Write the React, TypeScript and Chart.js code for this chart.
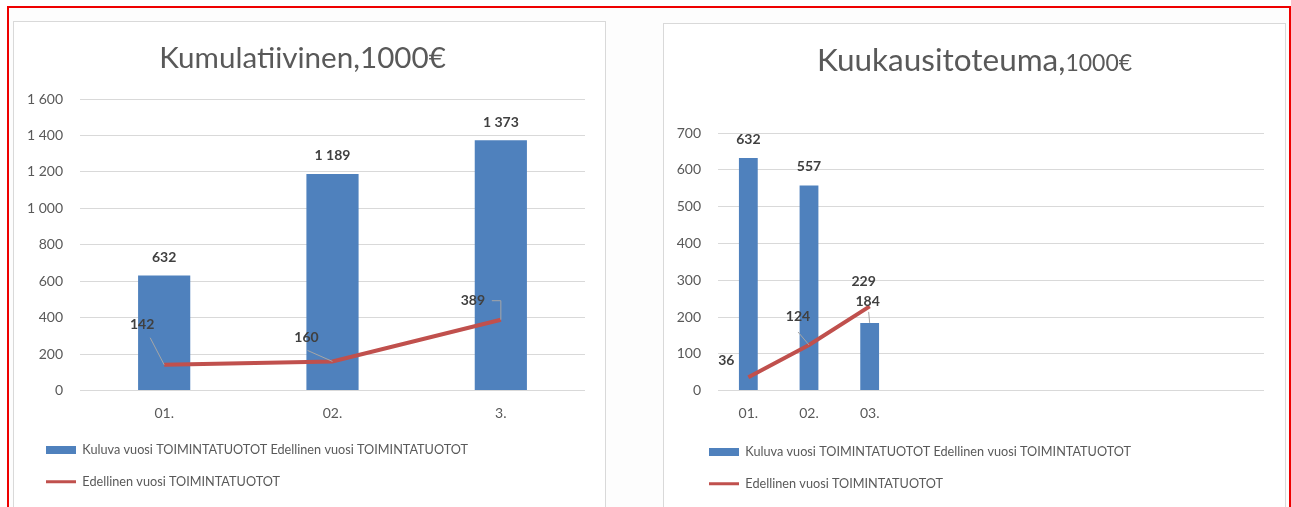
import React, { useEffect, useRef } from "react";
import { Chart, registerables } from "chart.js";

Chart.register(...registerables);

// ---------- data ----------
const cumCategories = ["01.", "02.", "3."];
const cumCurrent = [632, 1189, 1373];
const cumPrevious = [142, 160, 389];
const cumMax = 1600;
const cumStep = 200;

const monCategories = ["01.", "02.", "03.", "", "", "", "", "", ""];
const monCurrent = [632, 557, 184];
const monPrevious = [36, 124, 229];
const monMax = 700;
const monStep = 100;

const barSeriesName = "Kuluva vuosi TOIMINTATUOTOT Edellinen vuosi TOIMINTATUOTOT";
const lineSeriesName = "Edellinen vuosi TOIMINTATUOTOT";

const cumTitle = [{ text: "Kumulatiivinen,1000€", size: 29.6 }];
const monTitle = [
  { text: "Kuukausitoteuma,", size: 31.5 },
  { text: "1000€", size: 23 },
];

// ---------- styles ----------
const BLUE = "#4f81bd";
const RED = "#c0504d";
const GRID = "#d9d9d9";
const TEXT = "#595959";
const LABEL = "#404040";
const LEADER = "#a6a6a6";
const FONT = "Lato, 'Open Sans', sans-serif";

type Off = { dx: number; dy: number; leader?: number[][] };

const cumLabelOffsets: { bar: Off[]; line: Off[] } = {
  bar: [
    { dx: 0, dy: -18 },
    { dx: 0, dy: -18 },
    { dx: 0, dy: -18 },
  ],
  line: [
    { dx: -22, dy: -40, leader: [[8, 13]] },
    { dx: -26, dy: -24, leader: [[1, 13]] },
    { dx: -28, dy: -19, leader: [[19, 0], [28, 0]] },
  ],
};

const monLabelOffsets: { bar: Off[]; line: Off[] } = {
  bar: [
    { dx: 0, dy: -19 },
    { dx: 0, dy: -19 },
    { dx: -2, dy: -21, leader: [[1, 10]] },
  ],
  line: [
    { dx: -22, dy: -17 },
    { dx: -11, dy: -28, leader: [[0, 15]] },
    { dx: -6, dy: -25 },
  ],
};

const fmt = (v: number) => String(v).replace(/\B(?=(\d{3})+(?!\d))/g, " ");

function valueLabelsPlugin(offsets: { bar: Off[]; line: Off[] }) {
  return {
    id: "valueLabels",
    afterDatasetsDraw(chart: any) {
      const ctx = chart.ctx as CanvasRenderingContext2D;
      ctx.save();
      chart.data.datasets.forEach((ds: any, di: number) => {
        const meta = chart.getDatasetMeta(di);
        const offs = ds.type === "bar" ? offsets.bar : offsets.line;
        meta.data.forEach((el: any, i: number) => {
          const v = ds.data[i] as number;
          const o = offs[i] || { dx: 0, dy: -18 };
          const lx = el.x + o.dx;
          const ly = el.y + o.dy;
          if (o.leader) {
            ctx.beginPath();
            ctx.strokeStyle = LEADER;
            ctx.lineWidth = 1;
            o.leader.forEach((p, k) => {
              if (k === 0) ctx.moveTo(lx + p[0], ly + p[1]);
              else ctx.lineTo(lx + p[0], ly + p[1]);
            });
            ctx.lineTo(el.x, el.y);
            ctx.stroke();
          }
          ctx.font = `bold 14px ${FONT}`;
          ctx.fillStyle = LABEL;
          ctx.textAlign = "center";
          ctx.textBaseline = "middle";
          ctx.fillText(fmt(v), lx, ly);
        });
      });
      ctx.restore();
    },
  };
}

function titlePlugin(parts: { text: string; size: number }[], dx: number, baseline: number) {
  return {
    id: "mixedTitle",
    afterDraw(chart: any) {
      const ctx = chart.ctx as CanvasRenderingContext2D;
      ctx.save();
      ctx.fillStyle = TEXT;
      ctx.textAlign = "left";
      ctx.textBaseline = "alphabetic";
      const widths = parts.map((p) => {
        ctx.font = `${p.size}px ${FONT}`;
        return ctx.measureText(p.text).width;
      });
      const total = widths.reduce((a, b) => a + b, 0);
      let x = chart.width / 2 + dx - total / 2;
      parts.forEach((p, i) => {
        ctx.font = `${p.size}px ${FONT}`;
        ctx.fillText(p.text, x, baseline);
        x += widths[i];
      });
      ctx.restore();
    },
  };
}

function legendShiftPlugin(shift: number) {
  return {
    id: "legendShift",
    afterLayout(chart: any) {
      const lg = chart.legend;
      if (lg) {
        lg.left += shift;
        lg.right += shift;
      }
    },
  };
}

type Layout = {
  padTop: number;
  padRight: number;
  padBottom: number;
  yWidth: number;
  xHeight: number;
  legendShift: number;
  titleDx: number;
  titleBaseline: number;
};

function makeConfig(
  categories: string[],
  current: number[],
  previous: number[],
  max: number,
  step: number,
  title: { text: string; size: number }[],
  offsets: { bar: Off[]; line: Off[] },
  L: Layout
): any {
  return {
    type: "bar",
    data: {
      labels: categories,
      datasets: [
        {
          type: "line",
          label: lineSeriesName,
          data: previous,
          borderColor: RED,
          backgroundColor: RED,
          borderWidth: 4,
          pointRadius: 0,
          tension: 0,
          order: 0,
        },
        {
          type: "bar",
          label: barSeriesName,
          data: current,
          backgroundColor: BLUE,
          borderWidth: 0,
          categoryPercentage: 1,
          barPercentage: 0.31,
          order: 1,
        },
      ],
    },
    plugins: [
      legendShiftPlugin(L.legendShift),
      valueLabelsPlugin(offsets),
      titlePlugin(title, L.titleDx, L.titleBaseline),
    ],
    options: {
      animation: false,
      responsive: false,
      maintainAspectRatio: false,
      layout: {
        padding: { top: L.padTop, left: 0, right: L.padRight, bottom: L.padBottom },
      },
      plugins: {
        title: { display: false },
        tooltip: { enabled: false },
        legend: {
          position: "bottom",
          align: "start",
          labels: {
            usePointStyle: true,
            pointStyleWidth: 30,
            boxWidth: 30,
            boxHeight: 8,
            padding: 19,
            color: TEXT,
            font: { family: FONT, size: 12.7 },
            generateLabels: () => [
              {
                text: barSeriesName,
                fillStyle: BLUE,
                strokeStyle: BLUE,
                lineWidth: 0,
                pointStyle: "rect",
                hidden: false,
                datasetIndex: 1,
                fontColor: TEXT,
              },
              {
                text: lineSeriesName,
                fillStyle: RED,
                strokeStyle: RED,
                lineWidth: 3,
                pointStyle: "line",
                hidden: false,
                datasetIndex: 0,
                fontColor: TEXT,
              },
            ],
          },
        },
      },
      scales: {
        x: {
          grid: { display: false, drawTicks: false },
          border: { display: false },
          ticks: {
            color: TEXT,
            font: { family: FONT, size: 14 },
            padding: 14,
            autoSkip: false,
            maxRotation: 0,
          },
          afterFit: (s: any) => {
            s.height = L.xHeight;
          },
        },
        y: {
          min: 0,
          max,
          grid: { color: GRID, lineWidth: 1, drawTicks: false },
          border: { display: false },
          ticks: {
            stepSize: step,
            color: TEXT,
            font: { family: FONT, size: 14 },
            padding: 17,
            callback: (v: any) => fmt(Number(v)),
          },
          afterFit: (s: any) => {
            s.width = L.yWidth;
          },
        },
      },
    },
  };
}

function ChartCanvas({ config, w, h }: { config: () => any; w: number; h: number }) {
  const ref = useRef<HTMLCanvasElement>(null);
  useEffect(() => {
    const chart = new Chart(ref.current as HTMLCanvasElement, config());
    return () => chart.destroy();
  }, []);
  return <canvas ref={ref} width={w} height={h} style={{ display: "block", width: w, height: h }} />;
}

export default function App() {
  const leftW = 591;
  const rightW = 621;
  const canvasH = 490;
  const leftLayout: Layout = {
    padTop: 77,
    padRight: 20,
    padBottom: 14,
    yWidth: 66,
    xHeight: 34,
    legendShift: 13,
    titleDx: -7,
    titleBaseline: 46,
  };
  const rightLayout: Layout = {
    padTop: 109,
    padRight: 21,
    padBottom: 14,
    yWidth: 54,
    xHeight: 36,
    legendShift: 26,
    titleDx: 0,
    titleBaseline: 47,
  };
  return (
    <div
      style={{
        position: "absolute",
        left: 0,
        top: 0,
        width: 1291,
        height: 507,
        overflow: "hidden",
        background: "#ffffff",
      }}
    >
      <div
        style={{
          position: "absolute",
          left: 7,
          top: 6,
          width: 1284,
          height: 520,
          boxSizing: "border-box",
          border: "2.5px solid #ee0000",
          background: "#fdfdfd",
        }}
      />
      <div
        style={{
          position: "absolute",
          left: 13,
          top: 21,
          width: leftW,
          height: 520,
          border: "1px solid #d9d9d9",
          background: "#ffffff",
        }}
      >
        <ChartCanvas
          w={leftW}
          h={canvasH}
          config={() =>
            makeConfig(cumCategories, cumCurrent, cumPrevious, cumMax, cumStep, cumTitle, cumLabelOffsets, leftLayout)
          }
        />
      </div>
      <div
        style={{
          position: "absolute",
          left: 663,
          top: 23,
          width: rightW,
          height: 520,
          border: "1px solid #d9d9d9",
          background: "#ffffff",
        }}
      >
        <ChartCanvas
          w={rightW}
          h={canvasH}
          config={() =>
            makeConfig(monCategories, monCurrent, monPrevious, monMax, monStep, monTitle, monLabelOffsets, rightLayout)
          }
        />
      </div>
    </div>
  );
}
